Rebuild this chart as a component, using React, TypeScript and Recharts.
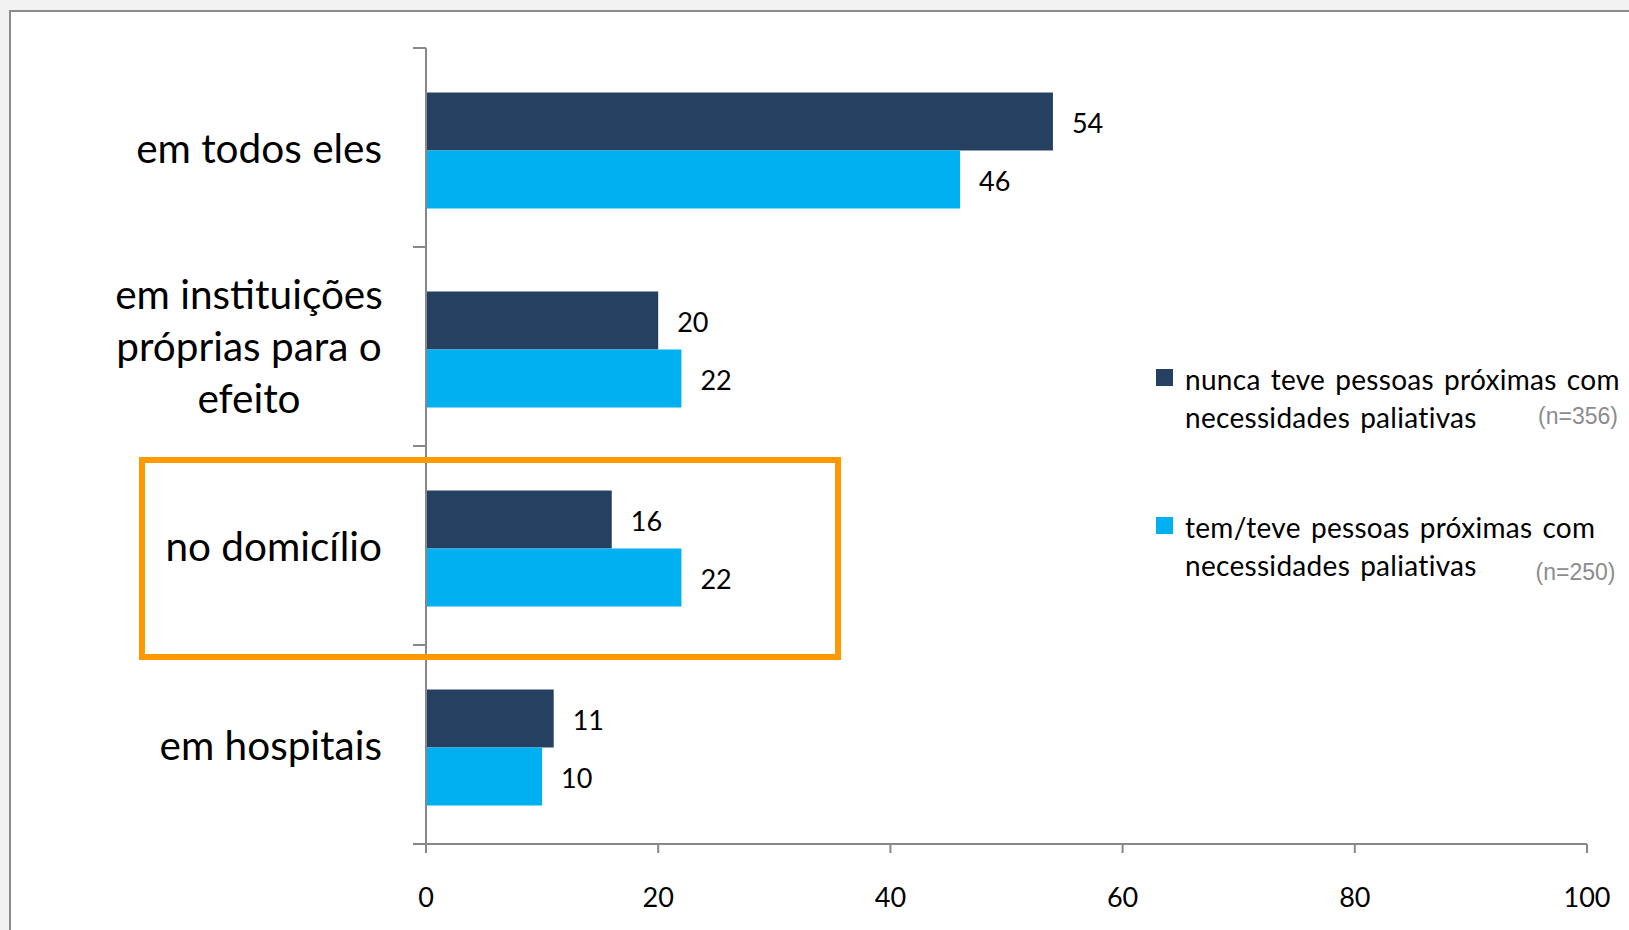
import React from 'react';
import { BarChart, Bar, XAxis, YAxis, LabelList } from 'recharts';

const categories = ['em todos eles', 'em instituições próprias para o efeito', 'no domicílio', 'em hospitais'];
const categoryLines = [['em todos eles'], ['em instituições', 'próprias para o', 'efeito'], ['no domicílio'], ['em hospitais']];
const nuncaValues = [54, 20, 16, 11];
const temValues = [46, 22, 22, 10];
const xTicks = [0, 20, 40, 60, 80, 100];
const seriesKeys = ['nunca', 'tem'];
const seriesColors = ['#264062', '#00B0F0'];
const seriesLine1 = ['nunca teve pessoas próximas com', 'tem/teve pessoas próximas com'];
const seriesLine2 = ['necessidades paliativas', 'necessidades paliativas'];
const sampleSizes = ['(n=356)', '(n=250)'];

const data = categories.map((c, i) => ({ name: c, nunca: nuncaValues[i], tem: temValues[i] }));

const FONT = 'Lato, "Open Sans", sans-serif';
const AXIS = '#888888';

const CategoryTick = (props: any) => {
  const { x, y, payload, index } = props;
  const half = payload && typeof payload.offset === 'number' ? payload.offset : 99.5;
  const lines = categoryLines[index] || [String(payload.value)];
  const multi = lines.length > 1;
  return (
    <g>
      <line x1={x - 13} x2={x} y1={y + half} y2={y + half} stroke={AXIS} strokeWidth={2} />
      {index === 0 && <line x1={x - 13} x2={x} y1={y - half} y2={y - half} stroke={AXIS} strokeWidth={2} />}
      {lines.map((ln: string, i: number) => (
        <text
          key={i}
          x={multi ? x - 177 : x - 44}
          y={multi ? y + 14.5 + (i - 1) * 51.7 : y + 15.5}
          textAnchor={multi ? 'middle' : 'end'}
          fontFamily={FONT}
          fontSize={40.5}
          fill="#000"
        >
          {ln}
        </text>
      ))}
    </g>
  );
};

export default function App() {
  return (
    <div style={{ position: 'fixed', left: 0, top: 0, width: 1629, height: 930, background: '#f2f2f2', overflow: 'hidden' }}>
      <div
        style={{
          position: 'absolute',
          left: 9,
          top: 10,
          width: 1700,
          height: 1000,
          border: '2px solid #8c8c8c',
          background: '#fff',
        }}
      />
      <div style={{ position: 'absolute', left: 0, top: 0 }}>
        <BarChart
          width={1629}
          height={930}
          data={data}
          layout="vertical"
          margin={{ top: 48, right: 42, left: 9, bottom: 6 }}
          barCategoryGap="20.8%"
          barGap={0}
        >
          <XAxis
            type="number"
            domain={[0, 100]}
            ticks={xTicks}
            interval={0}
            height={80}
            tickSize={9}
            tickMargin={35}
            axisLine={{ stroke: AXIS, strokeWidth: 2 }}
            tickLine={{ stroke: AXIS, strokeWidth: 2 }}
            tick={{ fill: '#000', fontSize: 27, fontFamily: FONT }}
          />
          <YAxis
            type="category"
            dataKey="name"
            width={417}
            interval={0}
            tickSize={0}
            tickMargin={0}
            tickLine={false}
            axisLine={{ stroke: AXIS, strokeWidth: 2 }}
            tick={<CategoryTick />}
          />
          <YAxis yAxisId="bars" type="category" dataKey="name" hide padding={{ top: 3, bottom: -3 }} />
          {seriesKeys.map((k, i) => (
            <Bar key={k} dataKey={k} yAxisId="bars" fill={seriesColors[i]} isAnimationActive={false}>
              <LabelList dataKey={k} position="right" offset={19} dy={2} fill="#000" fontSize={27} fontFamily={FONT} />
            </Bar>
          ))}
        </BarChart>
      </div>
      <div
        style={{
          position: 'absolute',
          left: 139,
          top: 457,
          width: 702,
          height: 203,
          boxSizing: 'border-box',
          border: '6px solid #FF9900',
        }}
      />
      {seriesKeys.map((k, i) => (
        <div key={k} style={{ position: 'absolute', left: 1156, top: 369 + i * 148, width: 470, height: 80 }}>
          <div style={{ position: 'absolute', left: 0, top: 0, width: 17, height: 17, background: seriesColors[i] }} />
          <div
            style={{
              position: 'absolute',
              left: 29,
              top: -9,
              fontFamily: FONT,
              fontSize: 28,
              lineHeight: '38px',
              letterSpacing: 0.3,
              wordSpacing: 2.6,
              color: '#000',
              whiteSpace: 'nowrap',
            }}
          >
            <div>{seriesLine1[i]}</div>
            <div>{seriesLine2[i]}</div>
          </div>
          <div
            style={{
              position: 'absolute',
              right: i === 0 ? 8 : 10.5,
              top: i === 0 ? 34 : 42,
              fontFamily: '"Liberation Sans", Arial, sans-serif',
              fontSize: 23,
              color: '#8c8c8c',
              whiteSpace: 'nowrap',
            }}
          >
            {sampleSizes[i]}
          </div>
        </div>
      ))}
    </div>
  );
}
